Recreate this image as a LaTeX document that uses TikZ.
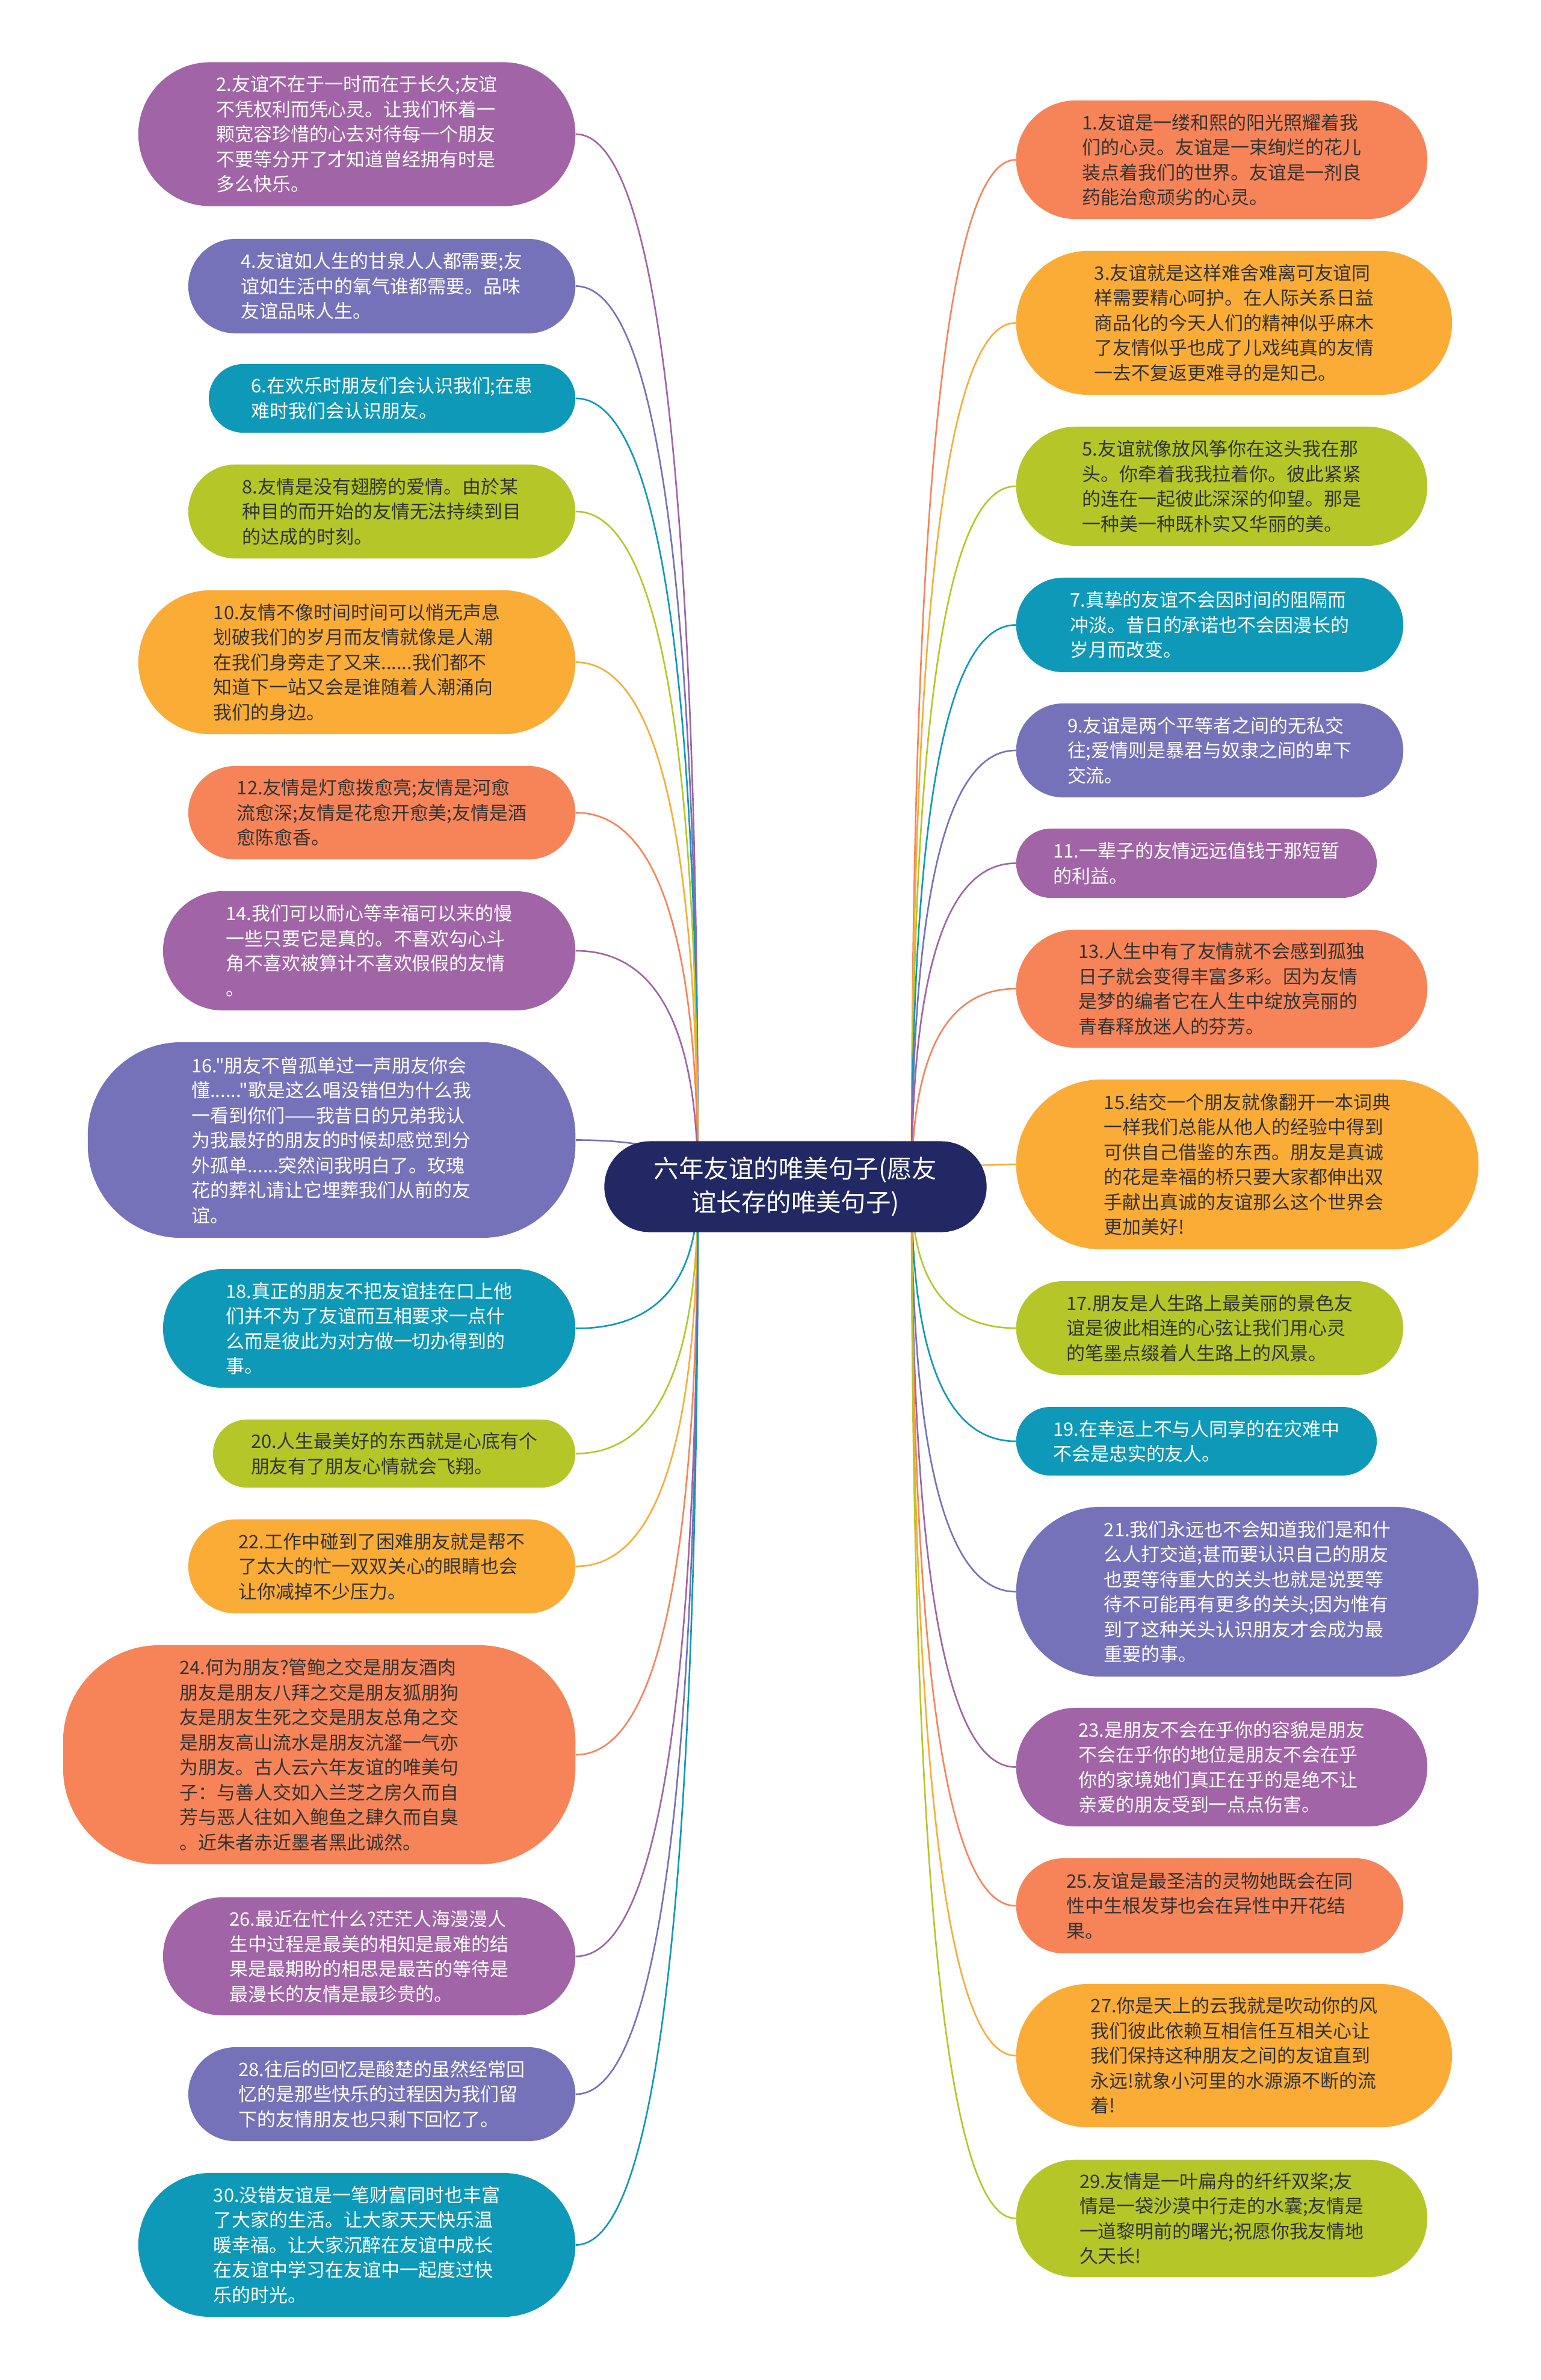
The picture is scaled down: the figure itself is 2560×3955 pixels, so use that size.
\documentclass[tikz,border=0pt]{standalone}
\usepackage{fontspec}
\usepackage{tikz}
\usetikzlibrary{calc,backgrounds}
\newfontfamily\cjkfont{Noto Sans CJK SC}

\definecolor{cSalmon}{HTML}{F78458}
\definecolor{cGold}{HTML}{FAAC37}
\definecolor{cGreen}{HTML}{B5C728}
\definecolor{cTeal}{HTML}{0E99B9}
\definecolor{cIndigo}{HTML}{7672B9}
\definecolor{cPurple}{HTML}{A164A7}
\definecolor{cNavy}{HTML}{212863}
\definecolor{cInk}{HTML}{333333}

\begin{document}
\begin{tikzpicture}[x=0.01cm, y=-0.01cm,
  leaf/.style n args={3}{rectangle, rounded corners=#3cm, minimum width=#1cm,
    minimum height=#2cm, inner sep=0pt, align=left,
    font=\cjkfont\fontsize{8.8pt}{11.8pt}\selectfont},
  salmonbox/.style={fill=cSalmon, text=cInk},
  goldbox/.style={fill=cGold, text=cInk},
  greenbox/.style={fill=cGreen, text=cInk},
  tealbox/.style={fill=cTeal, text=white},
  indigobox/.style={fill=cIndigo, text=white},
  purplebox/.style={fill=cPurple, text=white},
  root/.style={rectangle, rounded corners=0.755cm, minimum width=6.35cm,
    minimum height=1.51cm, fill=cNavy, text=white, align=center,
    font=\cjkfont\fontsize{11.8pt}{15.8pt}\selectfont},
  link/.style={line width=0.75pt}]

\useasboundingbox (0,0) rectangle (2560,3955);

% ============================================
% 1. ROOT
% ============================================
\node[root] (root) at (1322,1972) {六年友谊的唯美句子(愿友\\谊长存的唯美句子)};
\coordinate (cl) at (1160,1972);
\coordinate (cr) at (1515,1972);

% ============================================
% 2. LEFT BRANCH (even numbers)
% ============================================
\begin{scope}[every node/.append style={anchor=east}]
    \node[leaf={7.26}{2.39}{1.195}, purplebox] (n2) at (957,223)
        {2.友谊不在于一时而在于长久;友谊\\不凭权利而凭心灵。让我们怀着一\\颗宽容珍惜的心去对待每一个朋友\\不要等分开了才知道曾经拥有时是\\多么快乐。};
    \node[leaf={6.43}{1.57}{0.785}, indigobox] (n4) at (957,475.5)
        {4.友谊如人生的甘泉人人都需要;友\\谊如生活中的氧气谁都需要。品味\\友谊品味人生。};
    \node[leaf={6.09}{1.14}{0.57}, tealbox] (n6) at (957,662)
        {6.在欢乐时朋友们会认识我们;在患\\难时我们会认识朋友。};
    \node[leaf={6.43}{1.56}{0.78}, greenbox] (n8) at (957,850)
        {8.友情是没有翅膀的爱情。由於某\\种目的而开始的友情无法持续到目\\的达成的时刻。};
    \node[leaf={7.26}{2.39}{1.195}, goldbox] (n10) at (957,1100.5)
        {10.友情不像时间时间可以悄无声息\\划破我们的岁月而友情就像是人潮\\在我们身旁走了又来......我们都不\\知道下一站又会是谁随着人潮涌向\\我们的身边。};
    \node[leaf={6.43}{1.55}{0.775}, salmonbox] (n12) at (957,1350.5)
        {12.友情是灯愈拨愈亮;友情是河愈\\流愈深;友情是花愈开愈美;友情是酒\\愈陈愈香。};
    \node[leaf={6.85}{1.98}{0.99}, purplebox] (n14) at (957,1580)
        {14.我们可以耐心等幸福可以来的慢\\一些只要它是真的。不喜欢勾心斗\\角不喜欢被算计不喜欢假假的友情\\。};
    \node[leaf={8.10}{3.25}{1.55}, indigobox] (n16) at (957,1894.5)
        {16."朋友不曾孤单过一声朋友你会\\懂......"歌是这么唱没错但为什么我\\一看到你们——我昔日的兄弟我认\\为我最好的朋友的时候却感觉到分\\外孤单......突然间我明白了。玫瑰\\花的葬礼请让它埋葬我们从前的友\\谊。};
    \node[leaf={6.85}{1.97}{0.985}, tealbox] (n18) at (957,2207.5)
        {18.真正的朋友不把友谊挂在口上他\\们并不为了友谊而互相要求一点什\\么而是彼此为对方做一切办得到的\\事。};
    \node[leaf={6.02}{1.13}{0.565}, greenbox] (n20) at (957,2415.5)
        {20.人生最美好的东西就是心底有个\\朋友有了朋友心情就会飞翔。};
    \node[leaf={6.43}{1.56}{0.78}, goldbox] (n22) at (957,2603)
        {22.工作中碰到了困难朋友就是帮不\\了太大的忙一双双关心的眼睛也会\\让你减掉不少压力。};
    \node[leaf={8.51}{3.64}{1.6}, salmonbox] (n24) at (957,2916)
        {24.何为朋友?管鲍之交是朋友酒肉\\朋友是朋友八拜之交是朋友狐朋狗\\友是朋友生死之交是朋友总角之交\\是朋友高山流水是朋友沆瀣一气亦\\为朋友。古人云六年友谊的唯美句\\子：与善人交如入兰芝之房久而自\\芳与恶人往如入鲍鱼之肆久而自臭\\。近朱者赤近墨者黑此诚然。};
    \node[leaf={6.85}{1.96}{0.98}, purplebox] (n26) at (957,3251)
        {26.最近在忙什么?茫茫人海漫漫人\\生中过程是最美的相知是最难的结\\果是最期盼的相思是最苦的等待是\\最漫长的友情是最珍贵的。};
    \node[leaf={6.43}{1.56}{0.78}, indigobox] (n28) at (957,3480)
        {28.往后的回忆是酸楚的虽然经常回\\忆的是那些快乐的过程因为我们留\\下的友情朋友也只剩下回忆了。};
    \node[leaf={7.26}{2.39}{1.195}, tealbox] (n30) at (957,3730.5)
        {30.没错友谊是一笔财富同时也丰富\\了大家的生活。让大家天天快乐温\\暖幸福。让大家沉醉在友谊中成长\\在友谊中学习在友谊中一起度过快\\乐的时光。};
\end{scope}

% ============================================
% 3. RIGHT BRANCH (odd numbers)
% ============================================
\begin{scope}[every node/.append style={anchor=west}]
    \node[leaf={6.83}{1.97}{0.985}, salmonbox] (n1) at (1688,265.5)
        {1.友谊是一缕和熙的阳光照耀着我\\们的心灵。友谊是一束绚烂的花儿\\装点着我们的世界。友谊是一剂良\\药能治愈顽劣的心灵。};
    \node[leaf={7.24}{2.39}{1.195}, goldbox] (n3) at (1688,536.5)
        {3.友谊就是这样难舍难离可友谊同\\样需要精心呵护。在人际关系日益\\商品化的今天人们的精神似乎麻木\\了友情似乎也成了儿戏纯真的友情\\一去不复返更难寻的是知己。};
    \node[leaf={6.83}{1.98}{0.99}, greenbox] (n5) at (1688,808)
        {5.友谊就像放风筝你在这头我在那\\头。你牵着我我拉着你。彼此紧紧\\的连在一起彼此深深的仰望。那是\\一种美一种既朴实又华丽的美。};
    \node[leaf={6.43}{1.57}{0.785}, tealbox] (n7) at (1688,1038.5)
        {7.真挚的友谊不会因时间的阻隔而\\冲淡。昔日的承诺也不会因漫长的\\岁月而改变。};
    \node[leaf={6.43}{1.56}{0.78}, indigobox] (n9) at (1688,1247)
        {9.友谊是两个平等者之间的无私交\\往;爱情则是暴君与奴隶之间的卑下\\交流。};
    \node[leaf={5.99}{1.15}{0.575}, purplebox] (n11) at (1688,1434.5)
        {11.一辈子的友情远远值钱于那短暂\\的利益。};
    \node[leaf={6.83}{1.96}{0.98}, salmonbox] (n13) at (1688,1643)
        {13.人生中有了友情就不会感到孤独\\日子就会变得丰富多彩。因为友情\\是梦的编者它在人生中绽放亮丽的\\青春释放迷人的芬芳。};
    \node[leaf={7.68}{2.82}{1.41}, goldbox] (n15) at (1688,1935)
        {15.结交一个朋友就像翻开一本词典\\一样我们总能从他人的经验中得到\\可供自己借鉴的东西。朋友是真诚\\的花是幸福的桥只要大家都伸出双\\手献出真诚的友谊那么这个世界会\\更加美好!};
    \node[leaf={6.43}{1.56}{0.78}, greenbox] (n17) at (1688,2207)
        {17.朋友是人生路上最美丽的景色友\\谊是彼此相连的心弦让我们用心灵\\的笔墨点缀着人生路上的风景。};
    \node[leaf={5.99}{1.14}{0.57}, tealbox] (n19) at (1688,2395)
        {19.在幸运上不与人同享的在灾难中\\不会是忠实的友人。};
    \node[leaf={7.68}{2.82}{1.41}, indigobox] (n21) at (1688,2645)
        {21.我们永远也不会知道我们是和什\\么人打交道;甚而要认识自己的朋友\\也要等待重大的关头也就是说要等\\待不可能再有更多的关头;因为惟有\\到了这种关头认识朋友才会成为最\\重要的事。};
    \node[leaf={6.83}{1.97}{0.985}, purplebox] (n23) at (1688,2936.5)
        {23.是朋友不会在乎你的容貌是朋友\\不会在乎你的地位是朋友不会在乎\\你的家境她们真正在乎的是绝不让\\亲爱的朋友受到一点点伤害。};
    \node[leaf={6.43}{1.58}{0.79}, salmonbox] (n25) at (1688,3167)
        {25.友谊是最圣洁的灵物她既会在同\\性中生根发芽也会在异性中开花结\\果。};
    \node[leaf={7.24}{2.38}{1.19}, goldbox] (n27) at (1688,3416)
        {27.你是天上的云我就是吹动你的风\\我们彼此依赖互相信任互相关心让\\我们保持这种朋友之间的友谊直到\\永远!就象小河里的水源源不断的流\\着!};
    \node[leaf={6.83}{1.95}{0.975}, greenbox] (n29) at (1688,3686.5)
        {29.友情是一叶扁舟的纤纤双桨;友\\情是一袋沙漠中行走的水囊;友情是\\一道黎明前的曙光;祝愿你我友情地\\久天长!};
\end{scope}

% ============================================
% 4. LINKS
% ============================================
\begin{scope}[on background layer]
    \fill[white] (0,0) rectangle (2560,3955);
    \foreach \n/\c in {2/cPurple,4/cIndigo,6/cTeal,8/cGreen,10/cGold,12/cSalmon,14/cPurple,16/cIndigo,18/cTeal,20/cGreen,22/cGold,24/cSalmon,26/cPurple,28/cIndigo,30/cTeal}
        \draw[link, \c] (cl) .. controls ($(cl)!0.667!(cl |- n\n.east)$) and ($(n\n.east)!0.667!(cl |- n\n.east)$) .. (n\n.east);
    \foreach \n/\c in {1/cSalmon,3/cGold,5/cGreen,7/cTeal,9/cIndigo,11/cPurple,13/cSalmon,15/cGold,17/cGreen,19/cTeal,21/cIndigo,23/cPurple,25/cSalmon,27/cGold,29/cGreen}
        \draw[link, \c] (cr) .. controls ($(cr)!0.667!(cr |- n\n.west)$) and ($(n\n.west)!0.667!(cr |- n\n.west)$) .. (n\n.west);
\end{scope}

\end{tikzpicture}
\end{document}
